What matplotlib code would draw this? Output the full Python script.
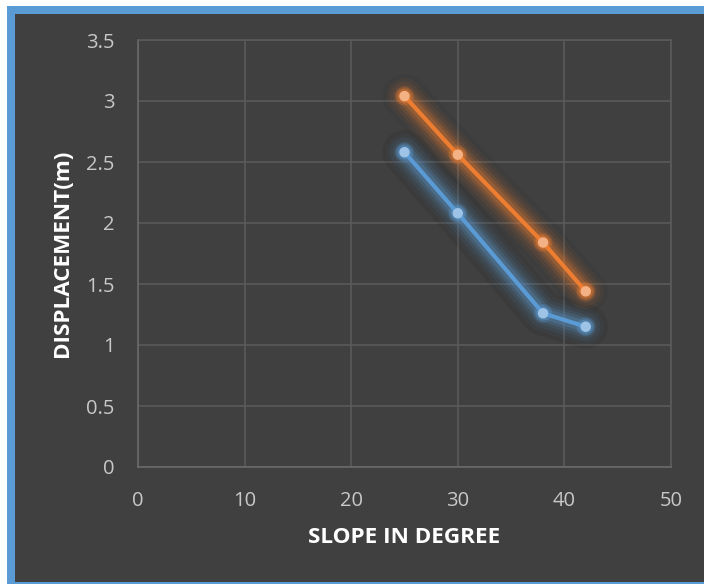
import matplotlib
matplotlib.use("Agg")
import matplotlib.pyplot as plt
import matplotlib.patheffects as pe
from matplotlib.patches import Rectangle

# data
slope = [25, 30, 38, 42]
disp_blue = [2.58, 2.08, 1.26, 1.15]
disp_orange = [3.04, 2.56, 1.84, 1.44]

W, H = 704, 584
bg = "#404040"
frame = "#5b9bd5"
grid_c = "#5a5a5a"
txt_c = "#c8c8c8"

plt.rcParams['font.family'] = ['Open Sans', 'DejaVu Sans']

fig = plt.figure(figsize=(W / 100, H / 100), dpi=100, facecolor=bg)

def box(x0, y0, x1, y1, c):
    # pixel box, y measured from the top
    fig.patches.append(Rectangle((x0 / W, 1 - y1 / H), (x1 - x0) / W, (y1 - y0) / H,
                                 transform=fig.transFigure, facecolor=c,
                                 edgecolor="none", zorder=-1))

box(0, 0, 7, H, "white")
box(0, 0, W, 6, "white")
box(7, 6, 15, H, frame)
box(7, 6, W, 14, frame)
box(7, H - 2, W, H, frame)

ax = fig.add_axes([138 / W, (H - 467) / H, (671 - 138) / W, (467 - 40) / H])
ax.set_facecolor(bg)

def glow(color, shadow):
    effs = [pe.Stroke(linewidth=32, foreground="black", alpha=shadow)]
    for lw, a in [(26, 0.05), (21, 0.08), (16, 0.11), (12, 0.16), (8, 0.24)]:
        effs.append(pe.Stroke(linewidth=lw, foreground=color, alpha=a))
    effs.append(pe.Normal())
    return effs

def dot_glow(color):
    return [pe.Stroke(linewidth=7, foreground=color, alpha=0.25),
            pe.Stroke(linewidth=4, foreground=color, alpha=0.35),
            pe.Normal()]

for y, c, mc, sh in [(disp_blue, "#5b9bd5", "#9dc3e6", 0.07),
                     (disp_orange, "#ed7d31", "#f4b183", 0.03)]:
    ax.plot(slope, y, color=c, lw=3, solid_capstyle="round", solid_joinstyle="round",
            path_effects=glow(c, sh), zorder=3)
    ax.plot(slope, y, ls="none", marker="o", ms=6.5, mfc=mc, mec=mc,
            path_effects=dot_glow(c), zorder=4)

ax.set_xlim(0, 50)
ax.set_ylim(0, 3.5)
ax.set_xticks([0, 10, 20, 30, 40, 50])
ax.set_yticks([0, 0.5, 1, 1.5, 2, 2.5, 3, 3.5])
ax.set_yticklabels(["0", "0.5", "1", "1.5", "2", "2.5", "3", "3.5"])
ax.grid(True, color=grid_c, lw=1.2)
ax.set_axisbelow(True)
for s in ax.spines.values():
    s.set_color(grid_c)
    s.set_linewidth(1.2)
ax.spines["left"].set_color("#6a6a6a")
ax.spines["bottom"].set_color("#6a6a6a")
ax.tick_params(length=0, colors=txt_c, labelsize=14.5)
ax.tick_params(axis="y", pad=17)
ax.tick_params(axis="x", pad=17)

ax.set_xlabel("SLOPE IN DEGREE", color="white", fontsize=16.2, fontweight="bold", labelpad=12)
ax.set_ylabel("DISPLACEMENT(m)", color="white", fontsize=16.2, fontweight="bold", labelpad=9)

fig.savefig("out.png", dpi=100, facecolor=bg)
